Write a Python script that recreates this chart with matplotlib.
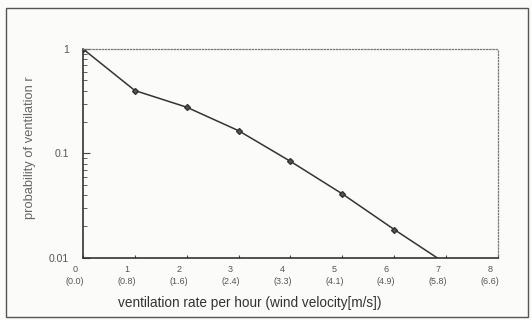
import numpy as np
import matplotlib.pyplot as plt
from matplotlib.transforms import ScaledTranslation
from matplotlib.patches import Rectangle

# data
rate = [0, 1, 2, 3, 4, 5, 6, 7]
prob = [1.0, 0.40, 0.277, 0.165, 0.084, 0.041, 0.0187, 0.0088]
tick_pos = [0, 1, 2, 3, 4, 5, 6, 7, 8]
wind = ["0.0", "0.8", "1.6", "2.4", "3.3", "4.1", "4.9", "5.8", "6.6"]

plt.rcParams['font.family'] = ['Liberation Sans', 'DejaVu Sans']
txt = '#555555'

fig = plt.figure(figsize=(5.32, 3.2), dpi=100, facecolor='#fbfbf9')
ax = fig.add_axes([0.156, 0.194, 0.780, 0.653])
ax.set_facecolor('#fbfbf9')

ax.plot(rate, prob, color='#333333', lw=1.1, marker='D', ms=3, mfc='#555555', mec='#333333', clip_on=True)

ax.set_yscale('log')
ax.set_ylim(0.01, 1)
ax.set_xlim(0, 8)

ax.set_yticks([0.01, 0.1, 1])
ax.set_yticklabels(['0.01', '0.1', '1'])
ax.yaxis.set_minor_formatter(plt.NullFormatter())
ax.set_xticks(tick_pos)
ax.set_xticklabels([])

# x tick labels sit a little left of their tick marks
off = ScaledTranslation(-8 / 100, -7 / 100, fig.dpi_scale_trans)
for t, w in zip(tick_pos, wind):
    ax.text(t, 0, f"{t}\n({w})", transform=ax.get_xaxis_transform() + off,
            ha='center', va='top', fontsize=6.5, color=txt, linespacing=1.5)

ax.tick_params(axis='both', which='both', direction='in', colors='#444444', labelcolor=txt, labelsize=7.5)
ax.tick_params(axis='y', which='major', length=5, pad=10)
ax.tick_params(axis='y', which='minor', length=3)
ax.tick_params(axis='x', length=2)

for s in ['left', 'bottom']:
    ax.spines[s].set_color('#333333')
    ax.spines[s].set_linewidth(1.2)
for s in ['top', 'right']:
    ax.spines[s].set_color('#777777')
    ax.spines[s].set_linestyle((0, (1, 1.5)))
    ax.spines[s].set_linewidth(0.9)

fig.text(250 / 532, 17 / 320, 'ventilation rate per hour (wind velocity[m/s])',
         ha='center', va='center', color='#333333', fontsize=9.8)
fig.text(30 / 532, 1 - 148 / 320, 'probability of ventilation r', rotation=90,
         ha='center', va='center', color='#666666', fontsize=9.3)

# outer frame around the figure
fig.patches.append(Rectangle((6 / 532, 3 / 320), 522 / 532, 309 / 320, transform=fig.transFigure,
                             fill=False, ec='#555555', lw=1.0))

fig.savefig('out.png', dpi=100, facecolor=fig.get_facecolor())
